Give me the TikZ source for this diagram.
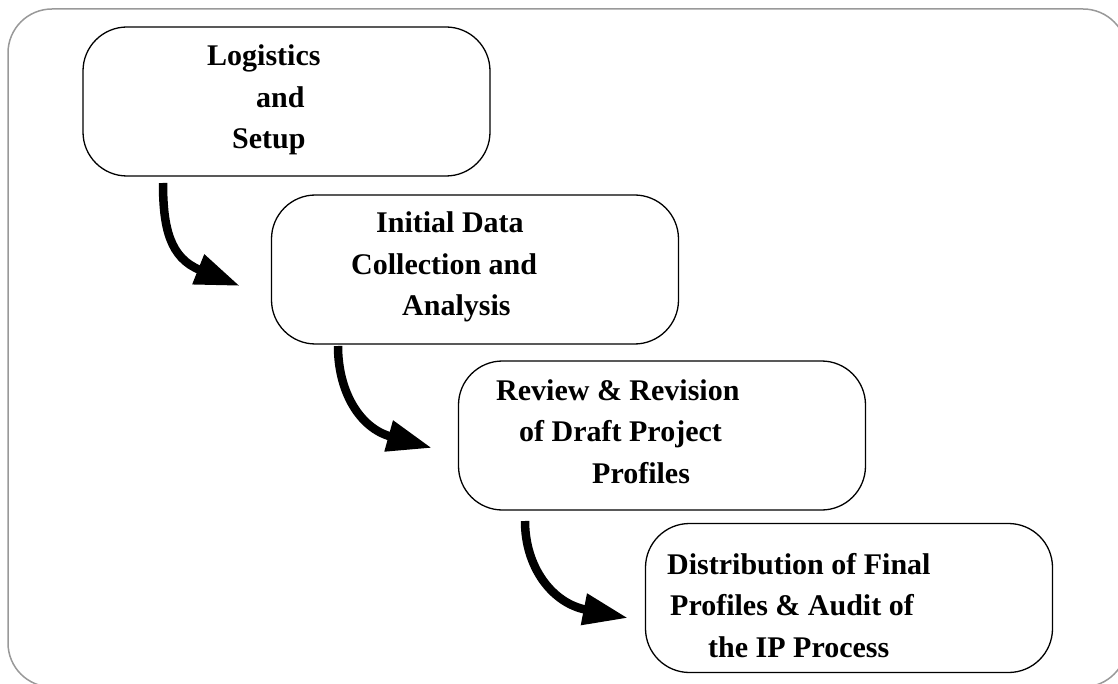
\documentclass[tikz,border=0pt]{standalone}
\usepackage{fontspec}
\setmainfont{Liberation Serif}
\usepackage{tikz}
\usetikzlibrary{arrows.meta,positioning}

\begin{document}
\begin{tikzpicture}[x=1pt,y=-1pt,
  stagebox/.style={draw,line width=1.3pt,rounded corners=44pt,minimum width=407pt,minimum height=149pt,inner sep=0pt},
  stagetext/.style={anchor=base west,inner sep=0pt,align=left,font=\bfseries\fontsize{30}{41.5}\selectfont},
  flow/.style={line width=8.5pt,-{Triangle[length=45pt,width=30pt]}}]
% Cut the page to the size of the slide; the outer frame runs past it
\clip (0,0) rectangle (1118,684);
\draw[gray!80,line width=1.5pt,rounded corners=44pt] (8,9) rectangle (1127,687);
% The four stages, stepping down to the right
\node[stagebox] (logistics) at (286.5,101.5) {};
\node[stagebox] (initial) at (475,269.5) {};
\node[stagebox] (review) at (662,435.5) {};
\node[stagebox] (distrib) at (849,598) {};
% Text of each stage, lines pushed over by hand as on the slide
% (base anchor sits on the last line)
\node[stagetext] (logisticsT) at (207,149) {Logistics\\\hspace*{49pt}and\\\hspace*{25pt}Setup};
\node[stagetext] (initialT) at (351,316) {\hspace*{25pt}Initial Data\\Collection and\\\hspace*{51pt}Analysis};
\node[stagetext] (reviewT) at (496,483) {Review \& Revision\\\hspace*{23pt}of Draft Project\\\hspace*{96pt}Profiles};
\node[stagetext] (distribT) at (667,657) {Distribution of Final\\\hspace*{3pt}Profiles \& Audit of\\\hspace*{41pt}the IP Process};
% Ends of the curved arrows between the stages
\coordinate (s1) at (163,183);
\coordinate (e1) at (240,286);
\coordinate (s2) at (338,346);
\coordinate (e2) at (432,448);
\coordinate (s3) at (525,521);
\coordinate (e3) at (628,618);
\draw[flow] (s1) .. controls (163,228) and (170,258) .. (e1);
\draw[flow] (s2) .. controls (338,392) and (360,428) .. (e2);
\draw[flow] (s3) .. controls (525,567) and (552,603) .. (e3);
\end{tikzpicture}
\end{document}
